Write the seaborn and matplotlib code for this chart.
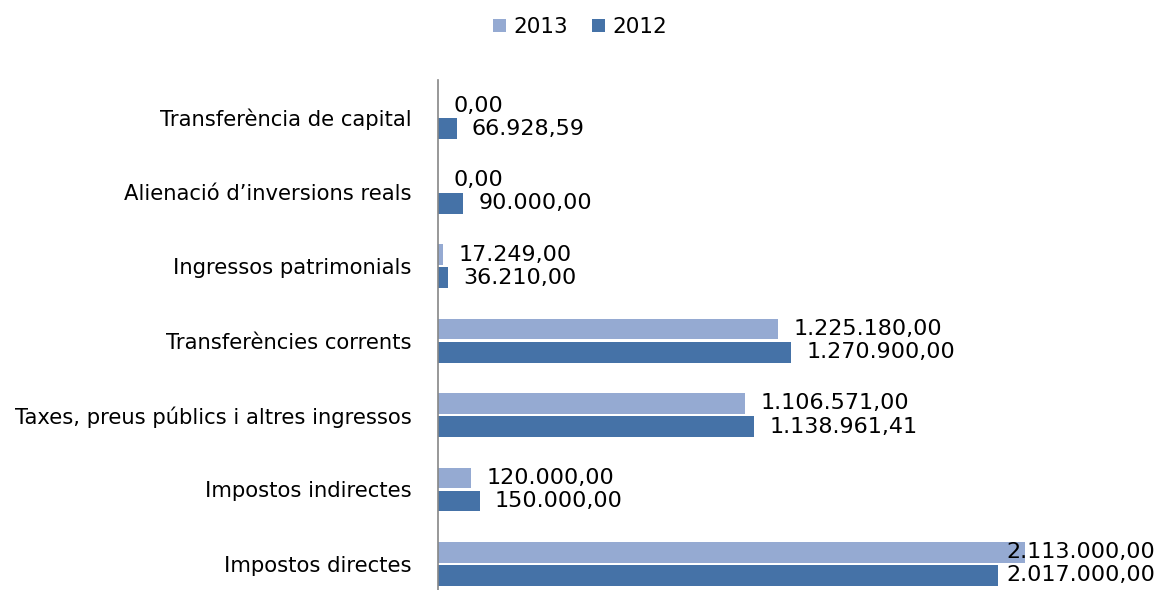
import matplotlib
matplotlib.use("Agg")
import matplotlib.pyplot as plt
import pandas as pd
import seaborn as sns

categories = [
    "Transferència de capital",
    "Alienació d’inversions reals",
    "Ingressos patrimonials",
    "Transferències corrents",
    "Taxes, preus públics i altres ingressos",
    "Impostos indirectes",
    "Impostos directes",
]
years = ["2013", "2012"]
values_2013 = [0.00, 0.00, 17249.00, 1225180.00, 1106571.00, 120000.00, 2113000.00]
values_2012 = [66928.59, 90000.00, 36210.00, 1270900.00, 1138961.41, 150000.00, 2017000.00]
colors = {"2013": "#95AAD2", "2012": "#4572A7"}


def fmt_ca(v):
    s = f"{v:,.2f}"
    return s.replace(",", "X").replace(".", ",").replace("X", ".")


df = pd.DataFrame({
    "Categoria": categories * 2,
    "Any": ["2013"] * len(categories) + ["2012"] * len(categories),
    "Valor": values_2013 + values_2012,
})

sns.set_theme(style="white")
plt.rcParams["font.family"] = ["DejaVu Sans"]

W, H = 1158, 590
FS = 16
fig = plt.figure(figsize=(W / 100, H / 100), dpi=100)
ax = fig.add_axes([438 / W, 0.0, 694 / W, (H - 80) / H])

sns.barplot(data=df, y="Categoria", x="Valor", hue="Any", order=categories,
            hue_order=years, palette=colors, orient="h", width=0.62, gap=0.1,
            saturation=1, linewidth=0, ax=ax, legend=True)

ax.set_xlim(0, 2500000)
ax.set_ylim(6.35, -0.5)
ax.set_xlabel("")
ax.set_ylabel("")
ax.set_xticks([])
ax.tick_params(axis="y", length=0, labelsize=15.2, labelcolor="black", pad=19)
for side in ["top", "right", "bottom"]:
    ax.spines[side].set_visible(False)
ax.spines["left"].set_color("#868686")
ax.spines["left"].set_linewidth(1.2)

# data labels, pulled back inside the figure when they would run off the edge
fig.canvas.draw()
renderer = fig.canvas.get_renderer()
for container, yr in zip(ax.containers, years):
    vals = values_2013 if yr == "2013" else values_2012
    for bar, v in zip(container, vals):
        yc = bar.get_y() + bar.get_height() / 2
        t = ax.annotate(fmt_ca(v), xy=(v, yc), xytext=(11, 0), textcoords="offset points",
                        ha="left", va="center", fontsize=FS, color="black",
                        annotation_clip=False)
        bb = t.get_window_extent(renderer)
        if bb.x1 > W - 3:
            shift = bb.x1 - (W - 3)
            t.set_position((11 - shift * 72 / 100, 0))

handles, labels = ax.get_legend_handles_labels()
ax.legend_.remove()
fig.legend(handles, labels, loc="center", bbox_to_anchor=(580 / W, 1 - 27 / H), ncol=2,
           frameon=False, fontsize=15.5, labelcolor="black", handlelength=0.6,
           handleheight=0.6, handletextpad=0.35, columnspacing=1.1)

fig.savefig("out.png", dpi=100)
